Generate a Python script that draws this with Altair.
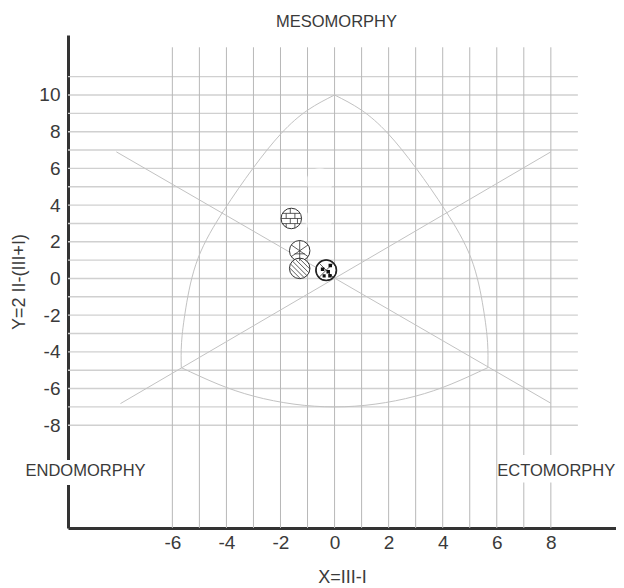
import altair as alt
import pandas as pd

# ---------------- values ----------------
# somatotype points (X = III-I, Y = 2II-(III+I))
point_x = [-1.60, -1.29, -1.29, -0.31]
point_y = [3.27, 1.51, 0.55, 0.45]
point_pattern = ["brick", "asterisk", "stripes", "checker"]

# two very faint (ghost) markers
ghost_x = [-0.55, -0.59]
ghost_y = [5.30, 3.18]

# somatochart outline (curved triangle)
left_arc_x = [0.0, -0.99, -1.97, -3.02, -4.10, -5.05, -5.50, -5.66, -5.67]
left_arc_y = [10.0, 9.18, 7.91, 6.00, 3.70, 1.10, -1.60, -3.50, -4.86]
right_arc_x = [0.0, 0.99, 1.97, 3.02, 4.10, 5.05, 5.50, 5.66, 5.67]
right_arc_y = [10.0, 9.18, 7.91, 6.00, 3.70, 1.10, -1.60, -3.50, -4.86]
bottom_arc_x = [-5.67, -4.31, -2.98, -1.50, 0.0, 1.50, 2.98, 4.31, 5.67]
bottom_arc_y = [-4.86, -5.76, -6.42, -6.85, -7.00, -6.85, -6.42, -5.76, -4.86]

# two straight guide lines
diag_a_x = [-8.07, 8.00]
diag_a_y = [6.90, -6.80]
diag_b_x = [-7.92, 8.00]
diag_b_y = [-6.82, 6.90]

# axes / grid
x_tick_values = [-6, -4, -2, 0, 2, 4, 6, 8]
y_tick_values = [-8, -6, -4, -2, 0, 2, 4, 6, 8, 10]
v_grid_values = [-6, -5, -4, -3, -2, -1, 0, 1, 2, 3, 4, 5, 6, 7, 8]
h_grid_values = [-8, -7, -6, -5, -4, -3, -2, -1, 0, 1, 2, 3, 4, 5, 6, 7, 8, 9, 10, 11]

X_MIN, X_MAX = -9.86, 10.41
Y_MIN, Y_MAX = -13.60, 13.27
V_GRID_TOP = 12.6
H_GRID_RIGHT = 9.0

label_text = ["MESOMORPHY", "ENDOMORPHY", "ECTOMORPHY"]
label_x = [0.07, -9.21, 8.20]
label_y = [13.98, -10.51, -10.51]

# white boxes behind the corner labels
box_x = [-11.6, 6.10]
box_x2 = [-6.9, 11.0]
box_y = [-9.90, -9.62]
box_y2 = [-11.25, -11.12]

# ---------------- tables ----------------
FONT = "Liberation Sans"
TXT = "#3a3a3a"

xs = alt.Scale(domain=[X_MIN, X_MAX], nice=False, zero=False)
ys = alt.Scale(domain=[Y_MIN, Y_MAX], nice=False, zero=False)

vgrid = pd.DataFrame({"x": v_grid_values,
                      "y": [Y_MIN] * len(v_grid_values),
                      "y1": [V_GRID_TOP] * len(v_grid_values)})
hgrid = pd.DataFrame({"y": h_grid_values,
                      "x": [X_MIN] * len(h_grid_values),
                      "x1": [H_GRID_RIGHT] * len(h_grid_values)})

def seg(name, xv, yv):
    return pd.DataFrame({"seg": name, "i": list(range(len(xv))), "x": xv, "y": yv})

arcs = pd.concat([seg("left", left_arc_x, left_arc_y),
                  seg("right", right_arc_x, right_arc_y),
                  seg("bottom", bottom_arc_x, bottom_arc_y)])
diags = pd.concat([seg("a", diag_a_x, diag_a_y), seg("b", diag_b_x, diag_b_y)])

points = pd.DataFrame({"x": point_x, "y": point_y, "pat": point_pattern})
ghosts = pd.DataFrame({"x": ghost_x, "y": ghost_y})
labels = pd.DataFrame({"x": label_x, "y": label_y, "t": label_text})
boxes = pd.DataFrame({"x": box_x, "x2": box_x2, "y": box_y, "y2": box_y2})

# marker fill patterns as symbol paths (unit circle)
BRICK = ("M-0.866,-0.5L0.866,-0.5M-1,0L1,0M-0.866,0.5L0.866,0.5"
         "M-0.1,-0.5L-0.1,-0.99M-0.5,0L-0.5,-0.5M0.35,0L0.35,-0.5"
         "M-0.1,0.5L-0.1,0M0.6,0.5L0.6,0M-0.5,0.5L-0.5,0.866M0.35,0.5L0.35,0.93")
ASTER = ("M0,-1L0,1M-0.82,-0.57L0.82,0.57M-0.82,0.57L0.82,-0.57"
         "M-0.5,0.3L0.5,0.3")
STRIPES = ("M-0.707,-0.707L0.707,0.707M-0.435,-0.901L0.901,0.435"
           "M-0.901,-0.435L0.435,0.901M-0.064,-0.998L0.998,0.064"
           "M-0.998,-0.064L0.064,0.998")
CHECK_LINES = "M-0.707,-0.707L0.707,0.707M-0.707,0.707L0.707,-0.707"
SQUARES = ("M0.23,-0.62L0.57,-0.62L0.57,-0.28L0.23,-0.28Z"
           "M-0.52,-0.27L-0.18,-0.27L-0.18,0.07L-0.52,0.07Z"
           "M0.03,-0.02L0.37,-0.02L0.37,0.32L0.03,0.32Z"
           "M0.2,0.38L0.54,0.38L0.54,0.72L0.2,0.72Z"
           "M-0.35,0.4L-0.05,0.4L-0.05,0.7L-0.35,0.7Z")

x_axis = alt.Axis(values=x_tick_values, title="X=III-I", grid=False, ticks=False,
                  domainColor="#333333", domainWidth=3, labelFont=FONT, labelFontSize=19,
                  labelColor=TXT, labelPadding=5, labelExpr="datum.value + ''",
                  titleFont=FONT, titleFontSize=18,
                  titleFontWeight="normal", titleColor=TXT, titlePadding=16)
y_axis = alt.Axis(values=y_tick_values, title="Y=2 II-(III+I)", grid=False, ticks=False,
                  domainColor="#333333", domainWidth=3, labelFont=FONT, labelFontSize=19,
                  labelColor=TXT, labelPadding=8, labelExpr="datum.value + ''",
                  titleFont=FONT, titleFontSize=18,
                  titleFontWeight="normal", titleColor=TXT, titlePadding=10)

X = alt.X("x:Q", scale=xs, axis=x_axis)
Y = alt.Y("y:Q", scale=ys, axis=y_axis)

hgrid_layer = alt.Chart(hgrid).mark_rule(color="#d0d0d0", strokeWidth=1.4).encode(
    x=X, x2="x1:Q", y=Y)

vgrid_layer = alt.Chart(vgrid).mark_rule(color="#b8b8b8", strokeWidth=1).encode(
    x=X, y=Y, y2="y1:Q")

arc_layer = alt.Chart(arcs).mark_line(color="#c2c2c2", strokeWidth=1, interpolate="natural").encode(
    x=X, y=Y, detail="seg:N", order="i:Q")

diag_layer = alt.Chart(diags).mark_line(color="#c2c2c2", strokeWidth=1).encode(
    x=X, y=Y, detail="seg:N", order="i:Q")

ghost_layer = alt.Chart(ghosts).mark_point(shape="circle", filled=True, size=700,
                                           color="white", opacity=0.5).encode(x=X, y=Y)

base_pts = alt.Chart(points).mark_point(shape="circle", filled=True, fill="white",
                                        stroke="#333333", strokeWidth=1, size=420,
                                        opacity=1, fillOpacity=1).encode(x=X, y=Y)

pattern_layer = alt.Chart(points).mark_point(filled=False, stroke="#333333", strokeWidth=0.8,
                                             size=420, opacity=1).encode(
    x=X, y=Y,
    shape=alt.Shape("pat:N", scale=alt.Scale(domain=["brick", "asterisk", "stripes", "checker"],
                                             range=[BRICK, ASTER, STRIPES, CHECK_LINES]),
                    legend=None))

squares_layer = alt.Chart(points).transform_filter(alt.datum.pat == "checker").mark_point(
    shape=SQUARES, filled=True, fill="#111111", size=420, strokeWidth=0, opacity=1).encode(x=X, y=Y)

ring_layer = alt.Chart(points).transform_filter(alt.datum.pat == "checker").mark_point(
    shape="circle", filled=False, stroke="#222222", strokeWidth=1.6, size=420, opacity=1).encode(x=X, y=Y)

box_layer = alt.Chart(boxes).mark_rect(color="white").encode(
    x=X, x2="x2:Q", y=Y, y2="y2:Q")

text_layer = alt.Chart(labels).mark_text(font=FONT, fontSize=16.5, color=TXT,
                                         align="center", baseline="middle").encode(
    x=X, y=Y, text="t:N")

chart = alt.layer(
    hgrid_layer, vgrid_layer, arc_layer, diag_layer, ghost_layer,
    base_pts, pattern_layer, squares_layer, ring_layer, box_layer, text_layer
).properties(
    width=548, height=493,
    padding={"left": 60, "top": 27, "right": 0, "bottom": 58},
    autosize=alt.AutoSizeParams(type="none"),
    background="white",
).configure_view(stroke=None)

chart.save("out.html", embed_options={"renderer": "svg", "actions": False})
